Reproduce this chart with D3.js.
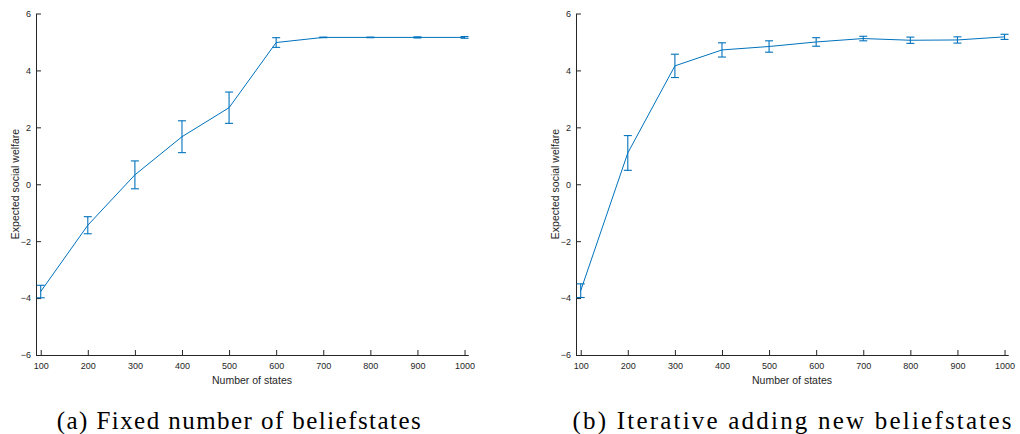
<!DOCTYPE html>
<html lang="en">
<head>
<meta charset="UTF-8" />
<title>Expected social welfare vs number of states</title>
<script src="https://d3js.org/d3.v7.min.js"></script>
<style>
  body { margin: 0; background: #fff; }
  svg { display: block; }
  .sans { font-family: Arial, Helvetica, "Liberation Sans", Arimo, Roboto, sans-serif; }
  .serif { font-family: "Times New Roman", Times, "Liberation Serif", Tinos, serif; }
  .axis text { font-family: Arial, Helvetica, "Liberation Sans", Arimo, Roboto, sans-serif; font-size: 9px; fill: #262626; }
  .axis path, .axis line { stroke: #262626; }
</style>
</head>
<body>
<svg width="1020" height="434"></svg>
<script>
const states = [100, 200, 300, 400, 500, 600, 700, 800, 900, 1000];
const xTicks = [100, 200, 300, 400, 500, 600, 700, 800, 900, 1000];
const yTicks = [-6, -4, -2, 0, 2, 4, 6];

// (a) fixed number of beliefstates
const fixedMean = [-3.77, -1.44, 0.33, 1.67, 2.69, 4.98, 5.16, 5.16, 5.16, 5.16];
const fixedErr  = [0.22, 0.30, 0.49, 0.56, 0.55, 0.17, 0.01, 0.01, 0.02, 0.03];

// (b) iterative adding new beliefstates
const iterMean = [-3.74, 1.1, 4.16, 4.72, 4.84, 5.0, 5.12, 5.06, 5.07, 5.18];
const iterErr  = [0.24, 0.61, 0.41, 0.25, 0.2, 0.15, 0.08, 0.11, 0.11, 0.09];

const captions = ["(a) Fixed number of beliefstates", "(b) Iterative adding new beliefstates"];

const svg = d3.select("svg");
const color = "#0072BD";

function panel(offsetX, means, errs, caption, cap) {
  const g = svg.append("g").attr("transform", `translate(${offsetX},0)`);

  const x = d3.scaleLinear().domain([90, 1008]).range([36, 468.3]);
  const y = d3.scaleLinear().domain([-6, 6]).range([355, 13.5]);

  g.append("g")
    .attr("class", "axis")
    .attr("transform", "translate(0,355)")
    .call(d3.axisBottom(x).tickValues(xTicks).tickFormat(d3.format("d"))
      .tickSizeInner(-5).tickSizeOuter(0).tickPadding(7.5));

  g.append("g")
    .attr("class", "axis")
    .attr("transform", "translate(36,0)")
    .call(d3.axisLeft(y).tickValues(yTicks).tickFormat(d3.format("d"))
      .tickSizeInner(-5).tickSizeOuter(0).tickPadding(5));

  g.append("text")
    .attr("class", "sans")
    .attr("x", 252)
    .attr("y", 383.5)
    .attr("text-anchor", "middle")
    .style("font-size", "10.5px")
    .style("fill", "#262626")
    .text("Number of states");

  g.append("text")
    .attr("class", "sans")
    .attr("transform", "translate(19,184) rotate(-90)")
    .attr("text-anchor", "middle")
    .style("font-size", "10.5px")
    .style("fill", "#262626")
    .text("Expected social welfare");

  const pts = states.map((s, i) => ({ s, m: means[i], e: errs[i] }));

  g.append("path")
    .datum(pts)
    .attr("fill", "none")
    .attr("stroke", color)
    .attr("stroke-width", 1)
    .attr("d", d3.line().x(d => x(d.s)).y(d => y(d.m)));

  const bars = g.selectAll(".eb").data(pts).enter().append("g")
    .attr("stroke", color).attr("stroke-width", 1.1);
  bars.append("line")
    .attr("x1", d => x(d.s)).attr("x2", d => x(d.s))
    .attr("y1", d => y(d.m + d.e)).attr("y2", d => y(d.m - d.e));
  bars.append("line")
    .attr("x1", d => x(d.s) - 4).attr("x2", d => x(d.s) + 4)
    .attr("y1", d => y(d.m + d.e)).attr("y2", d => y(d.m + d.e));
  bars.append("line")
    .attr("x1", d => x(d.s) - 4).attr("x2", d => x(d.s) + 4)
    .attr("y1", d => y(d.m - d.e)).attr("y2", d => y(d.m - d.e));

  g.append("text")
    .attr("class", "serif")
    .attr("x", cap.center)
    .attr("y", 428.5)
    .attr("text-anchor", "middle")
    .attr("textLength", cap.w)
    .attr("lengthAdjust", "spacing")
    .style("font-size", "25px")
    .style("fill", "#000")
    .text(caption);
}

panel(0, fixedMean, fixedErr, captions[0], { center: 238.7, w: 364 });
panel(540, iterMean, iterErr, captions[1], { center: 252, w: 439 });
</script>
</body>
</html>
